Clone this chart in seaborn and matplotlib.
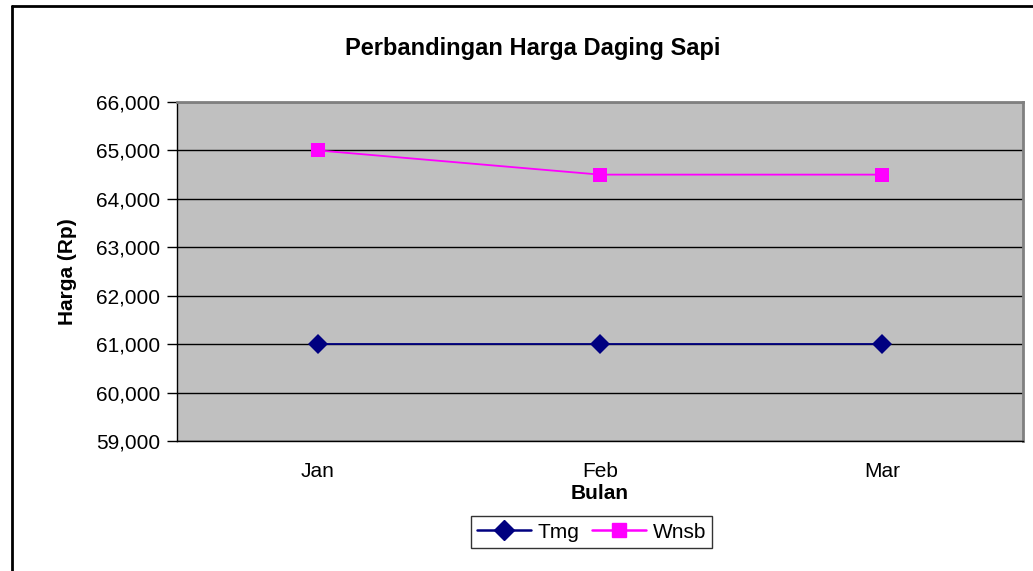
import matplotlib
matplotlib.use("Agg")
import matplotlib.pyplot as plt
from matplotlib.ticker import FuncFormatter, FixedLocator
import seaborn as sns
import pandas as pd

# data
months = ["Jan", "Feb", "Mar"]
tmg = [61000, 61000, 61000]
wnsb = [65000, 64500, 64500]

df = pd.DataFrame({
    "pos": list(range(len(months))) * 2,
    "Harga": tmg + wnsb,
    "Pasar": ["Tmg"] * len(months) + ["Wnsb"] * len(months),
})

sns.set_style("white")
plt.rcParams["font.family"] = ["Liberation Sans", "DejaVu Sans"]
plt.rcParams["text.color"] = "black"
plt.rcParams["xtick.color"] = "black"
plt.rcParams["ytick.color"] = "black"
plt.rcParams["axes.labelcolor"] = "black"

fig = plt.figure(figsize=(10.33, 5.71), dpi=100)
ax = fig.add_axes([0.1713, 0.2277, 0.819, 0.5937])
ax.set_facecolor("#C0C0C0")

sns.lineplot(data=df, x="pos", y="Harga", hue="Pasar", style="Pasar",
             palette={"Tmg": "#000080", "Wnsb": "#FF00FF"},
             markers={"Tmg": "D", "Wnsb": "s"}, dashes=False,
             markersize=10, markeredgewidth=0, linewidth=1.3, ax=ax,
             legend=False, zorder=3)

ax.set_xlim(-0.5, len(months) - 0.5)
ax.set_ylim(59000, 66000)
ax.set_yticks(range(59000, 66001, 1000))
ax.yaxis.set_major_formatter(FuncFormatter(lambda v, p: f"{int(v):,}"))
ax.grid(axis="y", color="black", linewidth=1)
ax.set_axisbelow(True)

ax.set_xticks(range(len(months)))
ax.set_xticklabels(months)
ax.xaxis.set_minor_locator(FixedLocator([i - 0.5 for i in range(len(months) + 1)]))
ax.tick_params(axis="x", which="major", length=0, pad=15, labelsize=15)
ax.tick_params(axis="x", which="minor", length=7, width=1, color="black", direction="out")
ax.tick_params(axis="y", length=7, width=1, color="black", direction="out", labelsize=15, pad=5)
ax.tick_params(axis="both", bottom=True, left=True)

for side in ["top", "right"]:
    ax.spines[side].set_color("#808080")
    ax.spines[side].set_linewidth(2)
for side in ["left", "bottom"]:
    ax.spines[side].set_color("black")
    ax.spines[side].set_linewidth(1)

ax.set_xlabel("Bulan", fontsize=15, fontweight="bold", labelpad=2)
ax.set_ylabel("Harga (Rp)", fontsize=15, fontweight="bold", labelpad=14)
fig.text(0.5155, 0.915, "Perbandingan Harga Daging Sapi", ha="center", va="center",
         fontsize=17, fontweight="bold")

h1, = ax.plot([], [], color="#000080", marker="D", markersize=10, linewidth=1.8)
h2, = ax.plot([], [], color="#FF00FF", marker="s", markersize=10, linewidth=1.8)
leg = fig.legend([h1, h2], ["Tmg", "Wnsb"], loc="center", bbox_to_anchor=(0.5726, 0.068),
                 ncol=2, frameon=True, fancybox=False, fontsize=15, handlelength=2.6,
                 columnspacing=0.6, handletextpad=0.3, borderpad=0.3)
leg.get_frame().set_edgecolor("black")
leg.get_frame().set_linewidth(1)

# outer chart border (cropped at right and bottom)
fig.add_artist(plt.Line2D([0.0116, 0.0116], [0, 0.9895], color="black", linewidth=2,
                          transform=fig.transFigure))
fig.add_artist(plt.Line2D([0.0116, 1.0], [0.9895, 0.9895], color="black", linewidth=2,
                          transform=fig.transFigure))

fig.savefig("out.png", dpi=100)
